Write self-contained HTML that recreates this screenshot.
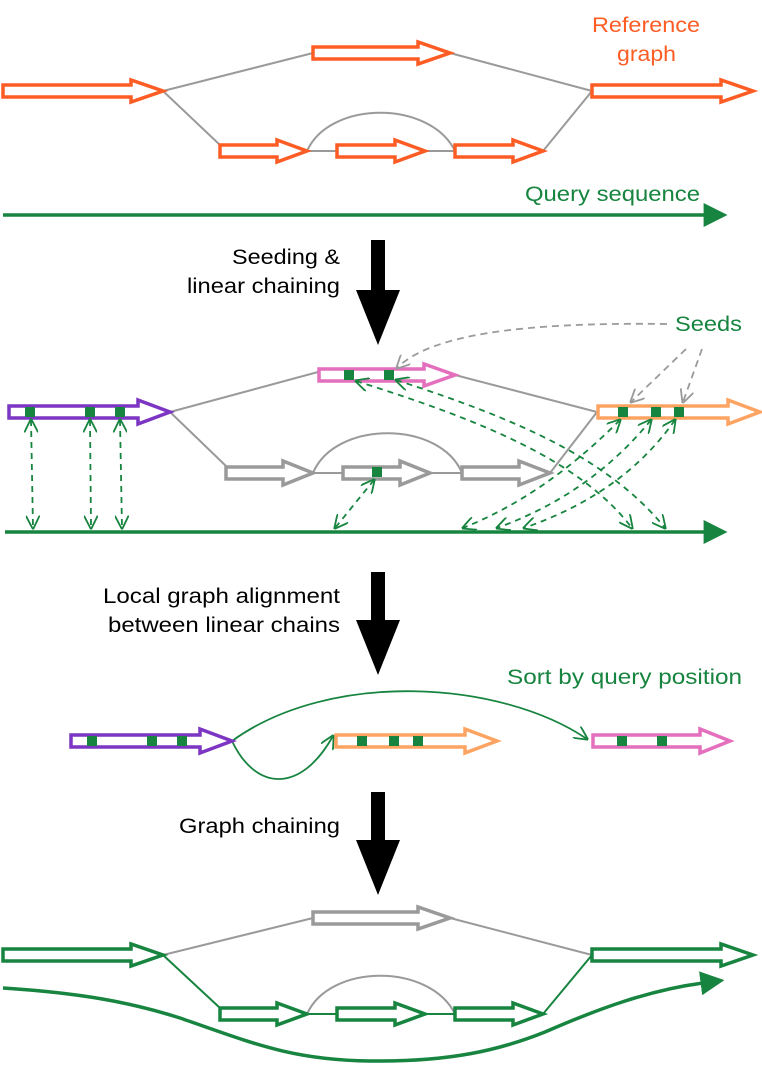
<!DOCTYPE html>
<html><head><meta charset="utf-8"><style>
html,body{margin:0;padding:0;background:#fff}
svg{display:block}
text{font-family:"Liberation Sans",sans-serif;font-size:21px}
</style></head><body>
<svg width="762" height="1066" viewBox="0 0 762 1066" xmlns="http://www.w3.org/2000/svg">
<defs>
<marker id="ga" viewBox="0 0 10 10" refX="9" refY="5" markerWidth="14" markerHeight="14" markerUnits="userSpaceOnUse" orient="auto-start-reverse"><path d="M0,0 L10,5 L0,10" fill="none" stroke="#17843f" stroke-width="1.3"/></marker>
<marker id="gr" viewBox="0 0 10 10" refX="9" refY="5" markerWidth="14" markerHeight="14" markerUnits="userSpaceOnUse" orient="auto"><path d="M0,0 L10,5 L0,10" fill="none" stroke="#9a9a9a" stroke-width="1.3"/></marker>
<marker id="gt" viewBox="0 0 10 10" refX="1" refY="5" markerWidth="24" markerHeight="24" markerUnits="userSpaceOnUse" orient="auto"><path d="M0,0 L10,5 L0,10 z" fill="#17843f"/></marker>
</defs>

<!-- ===== Section 1 ===== -->
<g fill="none" stroke="#9a9a9a" stroke-width="2">
<path d="M163,91 L313,53 M450,53 L592,91 M163,91 L220,145 M543,151 L592,91 M307,151 L337,151 M425,151 L455,151 M307,151 C330,100 430,100 455,151"/>
</g>
<g fill="#fff" stroke="#fd5d25" stroke-width="3.5" stroke-linejoin="miter">
<polygon points="3,85 131,85 131,80 163,91 131,102 131,97 3,97"/>
<polygon points="313,47 418,47 418,42 450,53 418,64 418,59 313,59"/>
<polygon points="220,145 277,145 277,140 307,151 277,162 277,157 220,157"/>
<polygon points="337,145 395,145 395,140 425,151 395,162 395,157 337,157"/>
<polygon points="455,145 513,145 513,140 543,151 513,162 513,157 455,157"/>
<polygon points="592,85 721,85 721,80 753,91 721,102 721,97 592,97"/>
</g>
<text x="592" y="32" fill="#fd5d25" textLength="108" lengthAdjust="spacingAndGlyphs">Reference</text>
<text x="617" y="61" fill="#fd5d25" textLength="59" lengthAdjust="spacingAndGlyphs">graph</text>
<text x="525" y="201" fill="#17843f" textLength="175" lengthAdjust="spacingAndGlyphs">Query sequence</text>
<line x1="3" y1="215" x2="706" y2="215" stroke="#17843f" stroke-width="3.5" marker-end="url(#gt)"/>

<!-- black arrow 1 -->
<polygon points="371,240 385,240 385,290 400,290 378,345 356,290 371,290" fill="#000"/>
<text x="232" y="264" textLength="108" lengthAdjust="spacingAndGlyphs">Seeding &amp;</text>
<text x="187" y="293" textLength="153" lengthAdjust="spacingAndGlyphs">linear chaining</text>

<!-- ===== Section 2 ===== -->
<g fill="none" stroke="#9a9a9a" stroke-width="2">
<path d="M170,412 L318,372 M455,375 L597,412 M170,412 L226,466 M550,473 L597,412 M313,473 L343,473 M430,473 L462,473 M313,473 C335,420 440,420 462,473"/>
</g>
<g fill="#fff" stroke-width="3.5">
<polygon stroke="#7d35c3" points="9,406 138,406 138,400 170,412 138,424 138,418 9,418"/>
<polygon stroke="#e46fbd" points="319,369 424,369 424,364 455,375 424,386 424,381 319,381"/>
<polygon stroke="#9a9a9a" points="226,467 283,467 283,461 313,473 283,485 283,479 226,479"/>
<polygon stroke="#9a9a9a" points="343,467 400,467 400,461 430,473 400,485 400,479 343,479"/>
<polygon stroke="#9a9a9a" points="462,467 519,467 519,461 550,473 519,485 519,479 462,479"/>
<polygon stroke="#fea462" points="598,406 728,406 728,400 760,412 728,424 728,418 598,418"/>
</g>
<g fill="#17843f">
<rect x="25" y="407" width="10" height="10"/><rect x="85" y="407" width="10" height="10"/><rect x="115" y="407" width="10" height="10"/>
<rect x="344" y="370" width="10" height="10"/><rect x="384" y="370" width="10" height="10"/>
<rect x="372" y="467" width="10" height="10"/>
<rect x="618" y="407" width="10" height="10"/><rect x="651" y="407" width="10" height="10"/><rect x="674" y="407" width="10" height="10"/>
</g>
<line x1="5" y1="532" x2="706" y2="532" stroke="#17843f" stroke-width="3.5" marker-end="url(#gt)"/>
<g fill="none" stroke="#17843f" stroke-width="1.8" stroke-dasharray="6,5" marker-start="url(#ga)" marker-end="url(#ga)">
<path d="M31,420 L33,528"/>
<path d="M90,420 L91,528"/>
<path d="M120,420 L122,528"/>
<path d="M374,480 L335,528"/>
<path d="M356,381 C480,420 580,460 632,528"/>
<path d="M396,380 C520,420 610,460 665,528"/>
<path d="M620,420 C570,470 520,505 463,528"/>
<path d="M651,420 C610,470 560,505 497,528"/>
<path d="M675,420 C640,470 590,505 524,528"/>
</g>
<g fill="none" stroke="#9a9a9a" stroke-width="1.8" stroke-dasharray="7,5">
<path d="M667,324 C520,322 430,335 397,368" marker-end="url(#gr)"/>
<path d="M686,349 L631,402" marker-end="url(#gr)"/>
<path d="M702,349 L683,402" marker-end="url(#gr)"/>
</g>
<text x="675" y="331" fill="#17843f" textLength="67" lengthAdjust="spacingAndGlyphs">Seeds</text>

<!-- black arrow 2 -->
<polygon points="371,572 385,572 385,620 400,620 378,675 356,620 371,620" fill="#000"/>
<text x="103" y="603" textLength="237" lengthAdjust="spacingAndGlyphs">Local graph alignment</text>
<text x="108" y="632" textLength="232" lengthAdjust="spacingAndGlyphs">between linear chains</text>

<!-- ===== Section 3 ===== -->
<text x="507" y="684" fill="#17843f" textLength="235" lengthAdjust="spacingAndGlyphs">Sort by query position</text>
<g fill="none" stroke="#17843f" stroke-width="1.8">
<path d="M232,741 C330,670 500,680 587,739" marker-end="url(#ga)"/>
<path d="M232,741 C255,790 300,795 333,736" marker-end="url(#ga)"/>
</g>
<g fill="#fff" stroke-width="3.5">
<polygon stroke="#7d35c3" points="71,735 200,735 200,729 232,741 200,753 200,747 71,747"/>
<polygon stroke="#fea462" points="336,735 465,735 465,729 497,741 465,753 465,747 336,747"/>
<polygon stroke="#e46fbd" points="593,735 700,735 700,729 730,741 700,753 700,747 593,747"/>
</g>
<g fill="#17843f">
<rect x="87" y="736" width="10" height="10"/><rect x="147" y="736" width="10" height="10"/><rect x="177" y="736" width="10" height="10"/>
<rect x="357" y="736" width="10" height="10"/><rect x="389" y="736" width="10" height="10"/><rect x="413" y="736" width="10" height="10"/>
<rect x="617" y="736" width="10" height="10"/><rect x="657" y="736" width="10" height="10"/>
</g>

<!-- black arrow 3 -->
<polygon points="371,792 385,792 385,840 400,840 378,895 356,840 371,840" fill="#000"/>
<text x="179" y="833" textLength="161" lengthAdjust="spacingAndGlyphs">Graph chaining</text>

<!-- ===== Section 4 ===== -->
<g fill="none" stroke="#9a9a9a" stroke-width="2">
<path d="M163,955 L313,918 M450,918 L592,955 M307,1014 C330,963 430,963 455,1014"/>
</g>
<g fill="none" stroke="#17843f" stroke-width="2">
<path d="M163,955 L220,1008 M543,1014 L592,955 M307,1014 L337,1014 M425,1014 L455,1014"/>
</g>
<g fill="#fff" stroke-width="3.5">
<polygon stroke="#9a9a9a" points="313,912 418,912 418,907 450,918 418,929 418,924 313,924"/>
<polygon stroke="#17843f" points="3,949 131,949 131,944 163,955 131,966 131,961 3,961"/>
<polygon stroke="#17843f" points="220,1008 277,1008 277,1003 307,1014 277,1025 277,1020 220,1020"/>
<polygon stroke="#17843f" points="337,1008 395,1008 395,1003 425,1014 395,1025 395,1020 337,1020"/>
<polygon stroke="#17843f" points="455,1008 513,1008 513,1003 543,1014 513,1025 513,1020 455,1020"/>
<polygon stroke="#17843f" points="592,949 721,949 721,944 753,955 721,966 721,961 592,961"/>
</g>
<path d="M3,988 C80,993 130,1002 180,1018 C250,1042 290,1060 370,1061 C450,1062 500,1050 545,1032 C600,1008 650,990 703,983" fill="none" stroke="#17843f" stroke-width="3.5" marker-end="url(#gt)"/>
</svg>
</body></html>
